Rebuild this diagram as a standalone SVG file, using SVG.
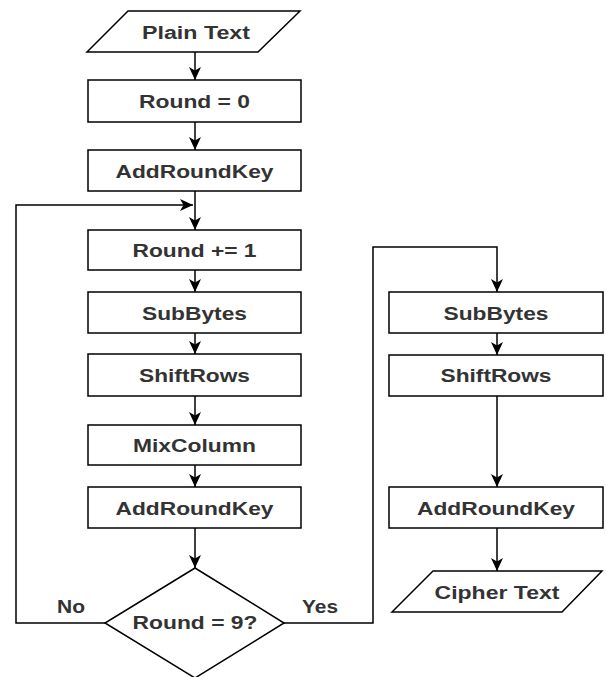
<svg xmlns="http://www.w3.org/2000/svg" width="606" height="677" viewBox="0 0 606 677">
<style>
.shape{fill:#fff;stroke:#000;stroke-width:1.5}
.lbl{font-family:"Liberation Sans",Arial,sans-serif;font-weight:bold;font-size:18px;fill:#333;text-anchor:middle}
.edge{fill:none;stroke:#000;stroke-width:1.5}
</style>
<defs>
<marker id="arr" markerUnits="userSpaceOnUse" markerWidth="14" markerHeight="14" viewBox="0 0 14 14" refX="13" refY="7" orient="auto">
<path d="M0,1 L13,7 L0,13 L3.5,7 z" fill="#000"/>
</marker>
</defs>
<rect width="606" height="677" fill="#fff"/>
<g id="connectors">
<path class="edge" d="M195,52 V80" marker-end="url(#arr)"/>
<path class="edge" d="M195,122 V150" marker-end="url(#arr)"/>
<path class="edge" d="M195,191 V230" marker-end="url(#arr)"/>
<path class="edge" d="M195,270 V292" marker-end="url(#arr)"/>
<path class="edge" d="M195,333 V354" marker-end="url(#arr)"/>
<path class="edge" d="M195,396 V425" marker-end="url(#arr)"/>
<path class="edge" d="M195,465 V487" marker-end="url(#arr)"/>
<path class="edge" d="M195,528 V568" marker-end="url(#arr)"/>
<path class="edge" d="M105,623 H16 V205 H193" marker-end="url(#arr)"/>
<path class="edge" d="M284,623 H373 V247 H497 V292" marker-end="url(#arr)"/>
<path class="edge" d="M497,333 V355" marker-end="url(#arr)"/>
<path class="edge" d="M497,396 V487" marker-end="url(#arr)"/>
<path class="edge" d="M497,528 V571" marker-end="url(#arr)"/>
<text class="lbl" x="71" y="613" textLength="28" lengthAdjust="spacingAndGlyphs">No</text>
<text class="lbl" x="320" y="613" textLength="36" lengthAdjust="spacingAndGlyphs">Yes</text>
</g>
<g id="plain-text">
<polygon class="shape" points="128,11 300,11 258,52 87,52"/>
<text class="lbl" x="196" y="39" textLength="108" lengthAdjust="spacingAndGlyphs">Plain Text</text>
</g>
<g id="round0">
<rect class="shape" x="88" y="80" width="213" height="42"/>
<text class="lbl" x="194.5" y="108" textLength="111" lengthAdjust="spacingAndGlyphs">Round = 0</text>
</g>
<g id="addroundkey1">
<rect class="shape" x="88" y="150" width="213" height="41"/>
<text class="lbl" x="194.5" y="178" textLength="158" lengthAdjust="spacingAndGlyphs">AddRoundKey</text>
</g>
<g id="round-inc">
<rect class="shape" x="88" y="230" width="213" height="40"/>
<text class="lbl" x="194.5" y="257" textLength="124" lengthAdjust="spacingAndGlyphs">Round += 1</text>
</g>
<g id="subbytes1">
<rect class="shape" x="88" y="292" width="213" height="41"/>
<text class="lbl" x="194.5" y="320" textLength="105" lengthAdjust="spacingAndGlyphs">SubBytes</text>
</g>
<g id="shiftrows1">
<rect class="shape" x="88" y="354" width="213" height="42"/>
<text class="lbl" x="194.5" y="382" textLength="111" lengthAdjust="spacingAndGlyphs">ShiftRows</text>
</g>
<g id="mixcolumn">
<rect class="shape" x="88" y="425" width="213" height="40"/>
<text class="lbl" x="194.5" y="452" textLength="123" lengthAdjust="spacingAndGlyphs">MixColumn</text>
</g>
<g id="addroundkey2">
<rect class="shape" x="88" y="487" width="213" height="41"/>
<text class="lbl" x="194.5" y="515" textLength="158" lengthAdjust="spacingAndGlyphs">AddRoundKey</text>
</g>
<g id="decision">
<polygon class="shape" points="195,568 284,623 195,678 105,623"/>
<text class="lbl" x="195" y="629" textLength="125" lengthAdjust="spacingAndGlyphs">Round = 9?</text>
</g>
<g id="subbytes2">
<rect class="shape" x="389" y="292" width="214" height="41"/>
<text class="lbl" x="496" y="320" textLength="105" lengthAdjust="spacingAndGlyphs">SubBytes</text>
</g>
<g id="shiftrows2">
<rect class="shape" x="389" y="355" width="214" height="41"/>
<text class="lbl" x="496" y="382" textLength="111" lengthAdjust="spacingAndGlyphs">ShiftRows</text>
</g>
<g id="addroundkey3">
<rect class="shape" x="389" y="487" width="214" height="41"/>
<text class="lbl" x="496" y="515" textLength="158" lengthAdjust="spacingAndGlyphs">AddRoundKey</text>
</g>
<g id="cipher-text">
<polygon class="shape" points="433,571 602,571 562,612 392,612"/>
<text class="lbl" x="497" y="599" textLength="125" lengthAdjust="spacingAndGlyphs">Cipher Text</text>
</g>
</svg>
